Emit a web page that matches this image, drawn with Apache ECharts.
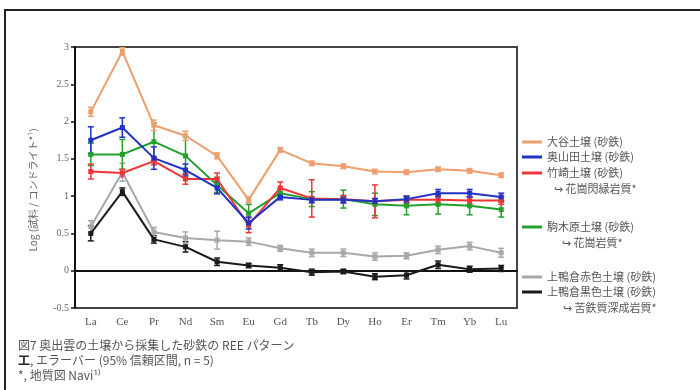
<!DOCTYPE html>
<html><head><meta charset="utf-8">
<script src="https://cdn.jsdelivr.net/npm/echarts@6/dist/echarts.min.js"></script>
<style>html,body{margin:0;padding:0;background:#fff}#c{width:700px;height:390px}</style>
</head><body><div id="c"></div>
<script>
const categories = ['La','Ce','Pr','Nd','Sm','Eu','Gd','Tb','Dy','Ho','Er','Tm','Yb','Lu'];
const yTicks = [-0.5, 0, 0.5, 1, 1.5, 2, 2.5, 3];
const names = ['大谷土壌 (砂鉄)','奥山田土壌 (砂鉄)','竹崎土壌 (砂鉄)','駒木原土壌 (砂鉄)','上鴨倉赤色土壌 (砂鉄)','上鴨倉黒色土壌 (砂鉄)'];
const otani    = [2.13, 2.94, 1.95, 1.81, 1.54, 0.95, 1.62, 1.44, 1.40, 1.33, 1.32, 1.36, 1.34, 1.28];
const okuyamada= [1.75, 1.92, 1.51, 1.35, 1.11, 0.64, 0.99, 0.95, 0.95, 0.93, 0.96, 1.04, 1.04, 0.99];
const takezaki = [1.33, 1.31, 1.47, 1.23, 1.23, 0.61, 1.11, 0.97, 0.96, 0.93, 0.95, 0.95, 0.94, 0.94];
const komagihara=[1.56, 1.56, 1.73, 1.54, 1.15, 0.77, 1.04, 0.96, 0.96, 0.89, 0.87, 0.89, 0.87, 0.82];
const akairo   = [0.59, 1.32, 0.52, 0.44, 0.41, 0.39, 0.30, 0.24, 0.24, 0.19, 0.20, 0.28, 0.33, 0.24];
const kuroiro  = [0.50, 1.06, 0.42, 0.32, 0.12, 0.07, 0.04, -0.02, -0.01, -0.08, -0.06, 0.08, 0.02, 0.03];
const otaniErr    = [0.06, 0.05, 0.07, 0.06, 0.04, 0.04, 0.03, 0.03, 0.03, 0.03, 0.03, 0.03, 0.03, 0.03];
const okuyamadaErr= [0.18, 0.13, 0.15, 0.08, 0.08, 0.08, 0.04, 0.04, 0.04, 0.04, 0.04, 0.05, 0.05, 0.05];
const takezakiErr = [0.10, 0.05, 0.05, 0.07, 0.08, 0.10, 0.08, 0.25, 0.05, 0.22, 0.05, 0.05, 0.05, 0.05];
const komagiharaErr=[0.15, 0.20, 0.25, 0.25, 0.10, 0.12, 0.06, 0.10, 0.12, 0.15, 0.12, 0.13, 0.12, 0.10];
const akairoErr   = [0.08, 0.12, 0.06, 0.08, 0.12, 0.05, 0.04, 0.05, 0.05, 0.05, 0.04, 0.05, 0.05, 0.06];
const kuroiroErr  = [0.10, 0.05, 0.05, 0.07, 0.05, 0.03, 0.04, 0.04, 0.03, 0.04, 0.05, 0.05, 0.04, 0.04];
const colors = ['#EE9E6C','#2233C4','#EE3535','#22A02A','#A8A8A8','#1A1A1A'];
const values = [otani, okuyamada, takezaki, komagihara, akairo, kuroiro];
const errs = [otaniErr, okuyamadaErr, takezakiErr, komagiharaErr, akairoErr, kuroiroErr];
const legendCenters = [142, 157, 173, 227, 277, 292];
const subNotes = [['↪ 花崗閃緑岩質*', 554, 189], ['↪ 花崗岩質*', 562, 243], ['↪ 苦鉄質深成岩質*', 563, 308]];
const captions = ['図7 奥出雲の土壌から採集した砂鉄の REE パターン', '{b|工}, エラーバー (95% 信頼区間, n = 5)', '*, 地質図 Navi¹⁾'];

const serif = '"Liberation Serif","DejaVu Serif",serif';
const jp = '"Noto Sans CJK JP","Liberation Serif",serif';

const series = [];
const order = [5,4,3,2,1,0];
order.forEach(i => {
  series.push({
    name: names[i] + '_err', type: 'custom', z: 3,
    data: values[i].map((v, k) => [k, v - errs[i][k], v + errs[i][k]]),
    renderItem: (params, api) => {
      const lo = api.coord([api.value(0), api.value(1)]);
      const hi = api.coord([api.value(0), api.value(2)]);
      const w = 3;
      const st = { stroke: colors[i], lineWidth: 1.5 };
      return { type: 'group', children: [
        { type: 'line', shape: { x1: lo[0], y1: lo[1], x2: hi[0], y2: hi[1] }, style: st },
        { type: 'line', shape: { x1: lo[0]-w, y1: lo[1], x2: lo[0]+w, y2: lo[1] }, style: st },
        { type: 'line', shape: { x1: hi[0]-w, y1: hi[1], x2: hi[0]+w, y2: hi[1] }, style: st }
      ]};
    }
  });
  series.push({
    name: names[i], type: 'line', z: 4, data: values[i],
    symbol: 'rect', symbolSize: 5, color: colors[i],
    lineStyle: { width: 2, color: colors[i] }, itemStyle: { color: colors[i] }
  });
});

const legends = names.map((n, i) => ({
  data: [n], left: 522, top: legendCenters[i] - 7, orient: 'vertical',
  icon: 'rect', itemWidth: 20, itemHeight: 3, itemGap: 0, padding: 0,
  selectedMode: false,
  textStyle: { fontFamily: jp, fontSize: 11, color: '#555', lineHeight: 14 }
}));

const graphics = [
  { type: 'rect', shape: { x: 5, y: 10, width: 700, height: 390 }, style: { fill: 'none', stroke: '#222', lineWidth: 2 } },
  { type: 'text', x: 33, y: 190, rotation: Math.PI/2, style: { text: 'Log (試料 / コンドライト*¹)', font: '10px ' + jp, fill: '#666', align: 'center', verticalAlign: 'middle' } }
];
captions.forEach((c, i) => graphics.push({ type: 'text', x: 18, y: 345 + i * 15, style: {
  text: c, font: '12px ' + jp, fill: '#555', verticalAlign: 'middle',
  rich: { b: { fontFamily: jp, fontSize: 12, fontWeight: 'bold', fill: '#222' } } } }));
subNotes.forEach(s => graphics.push({ type: 'text', x: s[1], y: s[2], style: { text: s[0], font: '11px ' + jp, fill: '#555', verticalAlign: 'middle' } }));

const chart = echarts.init(document.getElementById('c'));
chart.setOption({
  animation: false,
  backgroundColor: '#fff',
  grid: { left: 75, right: 183, top: 47, bottom: 82, show: true, borderColor: '#444', borderWidth: 2 },
  legend: legends,
  xAxis: {
    type: 'category', data: categories, boundaryGap: true,
    axisLine: { lineStyle: { color: '#111', width: 2 } },
    axisTick: { show: false },
    axisLabel: { fontFamily: serif, fontSize: 11, color: '#555', margin: 9 }
  },
  yAxis: {
    type: 'value', min: -0.5, max: 3, interval: 0.5,
    axisLine: { show: true, lineStyle: { color: '#111', width: 2 } },
    axisTick: { show: true, length: 4, lineStyle: { color: '#111', width: 1.5 } },
    splitLine: { show: false },
    axisLabel: { fontFamily: serif, fontSize: 10, color: '#666', margin: 6,
      formatter: v => yTicks.includes(v) ? String(v) : '' }
  },
  series: series,
  graphic: graphics
});
</script></body></html>
